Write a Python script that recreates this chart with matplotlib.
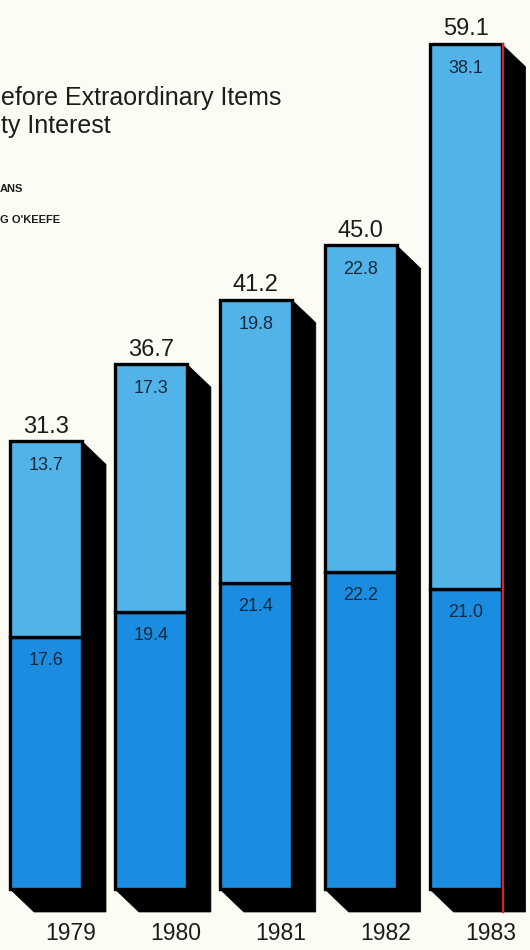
import matplotlib
matplotlib.use('Agg')
import matplotlib.pyplot as plt
from matplotlib.patches import Polygon

# ---- data ----
years = ['1979', '1980', '1981', '1982', '1983']
base_values = [17.6, 19.4, 21.4, 22.2, 21.0]     # lower (dark blue) segment
upper_values = [13.7, 17.3, 19.8, 22.8, 38.1]    # upper (light blue) segment
totals = [31.3, 36.7, 41.2, 45.0, 59.1]
title_lines = ['efore Extraordinary Items', 'ty Interest']
legend_labels = ['ANS', "G O'KEEFE"]

# ---- style ----
BG = '#fcfbf4'
LIGHT = '#52b3e8'
DARK = '#1b8de0'
TEXT = '#1c1c1c'
INNER_TEXT = '#16283c'
FONT = ['Liberation Sans', 'DejaVu Sans']
plt.rcParams['font.family'] = FONT

W, H, DPI = 530, 950, 100
fig = plt.figure(figsize=(W / DPI, H / DPI), dpi=DPI, facecolor=BG)
ax = fig.add_axes([0, 0, 1, 1])
ax.set_facecolor(BG)
ax.axis('off')

# layout (pixels)
x0_px = 46.0      # centre of first bar front
step_px = 104.9   # distance between bars
base_px = 889.0   # pixel row (from top) of value 0
scale_px = 14.3   # pixels per unit
ax.set_xlim(-x0_px / step_px, (W - x0_px) / step_px)
ax.set_ylim(-(H - base_px) / scale_px, base_px / scale_px)

PT = 72.0 / DPI  # points per pixel
width = 72 / step_px
dx = 24 / step_px
dy = 23 / scale_px

xs = list(range(len(years)))

# extruded black shadow
for x, tot in zip(xs, totals):
    xl, xr = x - width / 2, x + width / 2
    pts = [(xl, tot), (xr, tot), (xr + dx, tot - dy), (xr + dx, -dy),
           (xl + dx, -dy), (xl, 0)]
    ax.add_patch(Polygon(pts, closed=True, facecolor='black', edgecolor='black',
                         linewidth=0.5, zorder=1))

# front faces
ax.bar(xs, base_values, width=width, color=DARK, edgecolor='black',
       linewidth=2.4, zorder=2)
ax.bar(xs, upper_values, bottom=base_values, width=width, color=LIGHT,
       edgecolor='black', linewidth=2.4, zorder=2)

# red registration line on the last bar's right edge
ax.plot([xs[-1] + width / 2 + 1.5 / step_px] * 2, [totals[-1], -dy],
        color='#e02020', linewidth=1.6, zorder=3)

# labels
for x, b, u, tot, yr in zip(xs, base_values, upper_values, totals, years):
    ax.annotate(f'{tot:.1f}', (x, tot), xytext=(0, 8.5 * PT),
                textcoords='offset points', ha='center', va='baseline',
                fontsize=17, color=TEXT, zorder=4)
    ax.annotate(f'{u:.1f}', (x, b + u), xytext=(0, -16 * PT),
                textcoords='offset points', ha='center', va='top',
                fontsize=13, color=INNER_TEXT, zorder=4)
    ax.annotate(f'{b:.1f}', (x, b), xytext=(0, -15 * PT),
                textcoords='offset points', ha='center', va='top',
                fontsize=13, color=INNER_TEXT, zorder=4)
    ax.annotate(yr, (x, 0), xytext=(25 * PT, -45 * PT),
                textcoords='offset points', ha='center', va='center',
                fontsize=16.5, color=TEXT, zorder=4)

# title (cropped in the original)
fig.text(1 / W, 1 - 105 / H, title_lines[0], ha='left', va='baseline',
         fontsize=18, color=TEXT)
fig.text(1 / W, 1 - 133 / H, title_lines[1], ha='left', va='baseline',
         fontsize=18, color=TEXT)

# legend labels (cropped)
fig.text(0 / W, 1 - 192 / H, legend_labels[0], ha='left', va='baseline',
         fontsize=8, fontweight='bold', color=TEXT)
fig.text(0 / W, 1 - 223 / H, legend_labels[1], ha='left', va='baseline',
         fontsize=8, fontweight='bold', color=TEXT)

fig.savefig('out.png', dpi=DPI, facecolor=BG)
